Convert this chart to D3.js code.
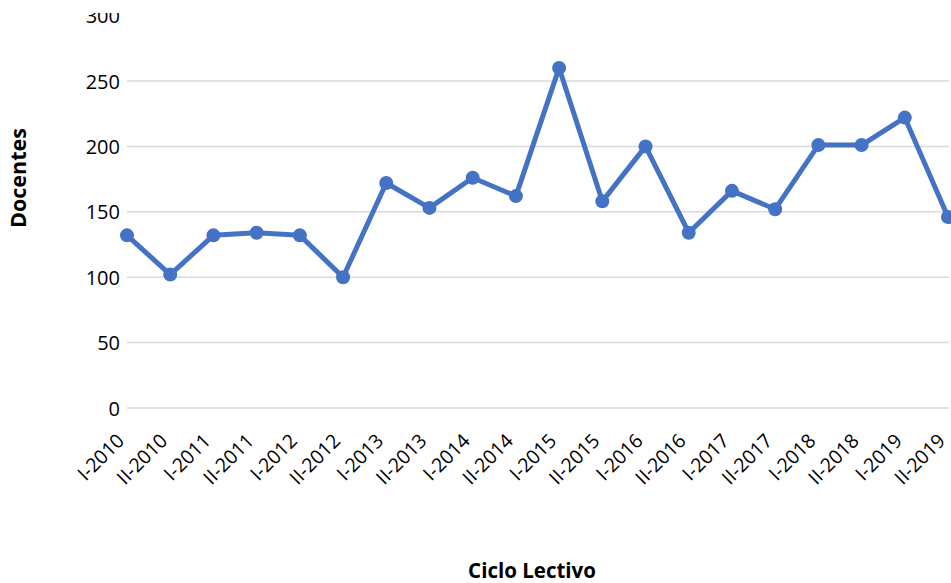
<!DOCTYPE html>
<html><head><meta charset="utf-8">
<script src="https://cdn.jsdelivr.net/npm/d3@7"></script>
<style>body{margin:0;background:#fff}svg{display:block}</style>
</head><body>
<svg id="c" width="951" height="583"></svg>
<script>
const categories = ["I-2010","II-2010","I-2011","II-2011","I-2012","II-2012","I-2013","II-2013","I-2014","II-2014","I-2015","II-2015","I-2016","II-2016","I-2017","II-2017","I-2018","II-2018","I-2019","II-2019"];
const docentes = [132,102,132,134,132,100,172,153,176,162,260,158,200,134,166,152,201,201,222,146];
const yTicks = [0,50,100,150,200,250,300];
const yTitle = "Docentes";
const xTitle = "Ciclo Lectivo";

const svg = d3.select("#c");
const font = "'Open Sans', sans-serif";
const x = d3.scalePoint().domain(categories).range([127, 948]);
const y = d3.scaleLinear().domain([0, 300]).range([408, 15.6]);

// gridlines
svg.append("g").selectAll("line").data(yTicks.filter(t => t < 300)).join("line")
  .attr("x1", 127).attr("x2", 949)
  .attr("y1", d => y(d)).attr("y2", d => y(d))
  .attr("stroke", "#d9d9d9").attr("stroke-width", 1.5);

// y axis labels
const yAxis = svg.append("g").attr("transform", "translate(120,0)")
  .call(d3.axisLeft(y).tickValues(yTicks).tickSize(0).tickPadding(0));
yAxis.select(".domain").remove();
yAxis.selectAll("text").attr("font-family", font).attr("font-size", 20).attr("fill", "#000").attr("dy", "0.35em");

// x axis labels
const xAxis = svg.append("g").attr("transform", "translate(0,408)")
  .call(d3.axisBottom(x).tickSize(0).tickPadding(0));
xAxis.select(".domain").remove();
xAxis.selectAll("text")
  .attr("font-family", font).attr("font-size", 19.5).attr("fill", "#000")
  .attr("text-anchor", "end").attr("dy", null).attr("y", 0)
  .attr("transform", "translate(-2,34) rotate(-45)");

// line
svg.append("path").datum(docentes)
  .attr("fill", "none").attr("stroke", "#4472C4").attr("stroke-width", 5)
  .attr("stroke-linejoin", "round")
  .attr("d", d3.line().x((d, i) => x(categories[i])).y(d => y(d)));
svg.append("g").selectAll("circle").data(docentes).join("circle")
  .attr("cx", (d, i) => x(categories[i])).attr("cy", d => y(d)).attr("r", 7)
  .attr("fill", "#4472C4");

// top clipping band (as in reference)
svg.append("rect").attr("x", 0).attr("y", 0).attr("width", 951).attr("height", 13).attr("fill", "#fff");

// titles
svg.append("text").attr("transform", "translate(26,178) rotate(-90)")
  .attr("text-anchor", "middle").attr("font-family", font).attr("font-weight", "bold")
  .attr("font-size", 21.5).text(yTitle);
svg.append("text").attr("x", 532).attr("y", 578)
  .attr("text-anchor", "middle").attr("font-family", font).attr("font-weight", "bold")
  .attr("font-size", 20.5).text(xTitle);
</script>
</body></html>
